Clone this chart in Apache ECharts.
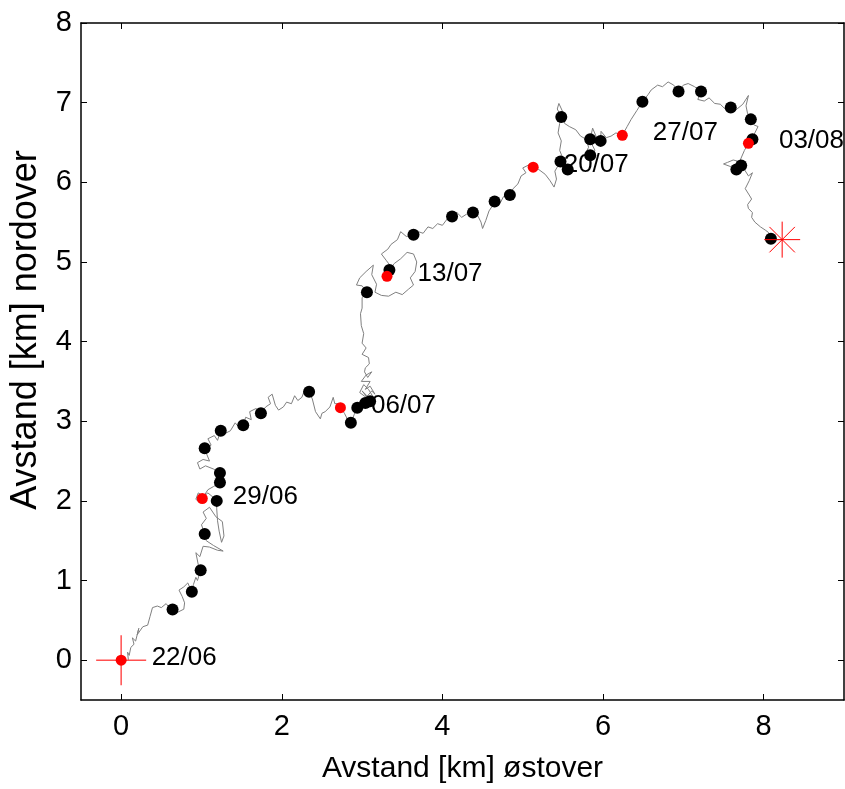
<!DOCTYPE html>
<html>
<head>
<meta charset="utf-8">
<script src="https://cdn.jsdelivr.net/npm/echarts@6/dist/echarts.min.js"></script>
<style>html,body{margin:0;padding:0;background:#fff;}#chart{width:845px;height:789px;}</style>
</head>
<body>
<div id="chart"></div>
<script>
const xTicks = [0, 2, 4, 6, 8];
const yTicks = [0, 1, 2, 3, 4, 5, 6, 7, 8];
const xName = 'Avstand [km] østover';
const yName = 'Avstand [km] nordover';
const dateLabels = ['22/06', '29/06', '06/07', '13/07', '20/07', '27/07', '03/08'];
const weekDots = [[0,0],[1.01,2.03],[2.73,3.17],[3.31,4.82],[5.13,6.19],[6.24,6.59],[7.81,6.49]];
const dayDots = [[0.64,0.635],[0.88,0.86],[0.99,1.13],[1.04,1.585],[1.19,2.0],[1.23,2.23],[1.23,2.35],[1.04,2.66],[1.24,2.88],[1.52,2.95],[1.74,3.10],[2.34,3.37],[2.86,2.98],[2.94,3.17],[3.04,3.23],[3.10,3.25],[3.06,4.62],[3.34,4.90],[3.64,5.34],[4.12,5.57],[4.38,5.62],[4.65,5.76],[4.84,5.84],[5.47,6.26],[5.56,6.16],[5.48,6.82],[5.84,6.34],[5.84,6.54],[5.97,6.52],[6.49,7.01],[6.94,7.14],[7.22,7.14],[7.59,6.94],[7.84,6.79],[7.86,6.54],[7.72,6.21],[7.66,6.16],[8.09,5.29]];
const startPoint = [[0,0]];
const endPoint = [[8.23,5.28]];
const track = [
[0.09,0.0],[0.08,0.10],[0.10,0.06],[0.12,0.16],[0.16,0.20],[0.14,0.28],[0.18,0.24],[0.22,0.40],[0.20,0.32],[0.27,0.42],[0.33,0.44],[0.36,0.55],[0.39,0.66],[0.45,0.68],[0.50,0.66],[0.56,0.71],[0.60,0.66],[0.64,0.635],[0.70,0.60],[0.78,0.64],[0.79,0.72],[0.76,0.80],[0.72,0.88],[0.78,0.92],[0.83,0.97],[0.86,0.90],[0.88,0.86],[0.90,0.95],[0.93,1.04],[0.95,1.00],[0.99,1.13],[0.96,1.20],[0.93,1.35],[0.98,1.30],[1.02,1.43],[1.10,1.42],[1.20,1.38],[1.27,1.37],[1.15,1.44],[1.06,1.50],[1.04,1.585],
[1.00,1.70],[1.06,1.78],[1.02,1.86],[1.10,1.92],[1.18,1.80],[1.26,1.74],[1.28,1.56],[1.25,1.48],[1.22,1.62],[1.20,1.75],[1.19,1.90],[1.19,2.00],[1.14,2.05],[1.08,2.10],[1.03,2.06],[0.96,2.10],[0.93,2.02],[0.98,1.98],[1.01,2.03],
[1.08,2.14],[1.15,2.18],[1.23,2.23],[1.18,2.30],[1.23,2.35],[1.15,2.40],[1.05,2.44],[0.98,2.40],[0.95,2.48],[1.02,2.52],[1.10,2.50],[1.06,2.60],[1.04,2.66],[1.12,2.70],[1.08,2.78],[1.16,2.82],[1.20,2.76],[1.24,2.88],[1.30,2.92],[1.28,2.84],[1.36,2.88],[1.42,2.98],[1.47,2.92],[1.52,2.95],[1.55,3.05],[1.62,3.02],[1.60,3.12],[1.68,3.16],[1.74,3.10],[1.80,3.18],[1.86,3.22],[1.83,3.30],[1.88,3.34],[1.92,3.20],[1.96,3.14],[2.02,3.18],[2.06,3.24],[2.12,3.22],[2.16,3.32],[2.20,3.26],[2.25,3.30],[2.28,3.38],[2.34,3.37],[2.38,3.28],[2.42,3.12],[2.48,3.03],[2.50,3.10],[2.54,3.12],[2.60,3.18],[2.64,3.30],[2.66,3.22],[2.70,3.22],[2.73,3.17],
[2.78,3.10],[2.82,3.02],[2.86,2.98],[2.90,3.08],[2.94,3.17],[2.98,3.26],[3.02,3.20],[3.04,3.23],[3.06,3.32],[3.00,3.38],[3.10,3.25],[3.14,3.30],[3.08,3.40],[3.02,3.46],[2.97,3.36],[3.05,3.30],[3.12,3.38],[3.16,3.34],[3.10,3.44],[3.04,3.40],[3.10,3.50],[2.99,3.50],[3.05,3.58],[3.12,3.62],[3.07,3.55],[3.03,3.62],[3.04,3.67],[3.09,3.72],[3.08,3.80],[3.00,3.84],[3.05,3.92],[3.00,3.98],[3.02,4.10],[2.99,4.20],[2.98,4.35],[3.00,4.42],[3.00,4.55],[3.06,4.62],
[3.00,4.70],[2.93,4.71],[2.97,4.80],[3.05,4.88],[3.14,4.96],[3.12,4.84],[3.18,4.72],[3.16,4.62],[3.24,4.58],[3.33,4.57],[3.42,4.62],[3.50,4.59],[3.58,4.66],[3.64,4.71],[3.60,4.80],[3.66,4.88],[3.68,5.00],[3.64,5.10],[3.56,5.12],[3.48,5.04],[3.40,4.98],[3.34,4.90],[3.28,4.86],[3.31,4.82],[3.36,4.94],[3.30,5.02],[3.24,5.10],[3.32,5.16],[3.36,5.22],[3.44,5.28],[3.48,5.38],[3.55,5.32],[3.64,5.34],
[3.70,5.38],[3.76,5.36],[3.82,5.44],[3.88,5.42],[3.94,5.48],[4.00,5.46],[4.06,5.54],[4.12,5.57],[4.18,5.62],[4.24,5.56],[4.30,5.60],[4.38,5.62],[4.44,5.58],[4.48,5.50],[4.50,5.42],[4.54,5.52],[4.58,5.64],[4.62,5.70],[4.65,5.76],[4.72,5.74],[4.76,5.82],[4.84,5.84],[4.88,5.92],[4.94,5.98],[4.98,6.08],[5.04,6.12],[5.00,6.18],[5.08,6.22],[5.13,6.19],
[5.20,6.16],[5.28,6.10],[5.34,6.02],[5.39,5.94],[5.42,6.04],[5.40,6.14],[5.47,6.26],[5.52,6.20],[5.56,6.16],[5.50,6.30],[5.46,6.40],[5.48,6.52],[5.44,6.62],[5.46,6.74],[5.48,6.82],[5.43,6.92],[5.45,6.99],[5.50,6.88],[5.52,6.74],[5.58,6.70],[5.66,6.66],[5.72,6.58],[5.79,6.54],[5.82,6.44],[5.78,6.36],[5.84,6.34],[5.90,6.40],[5.86,6.48],[5.84,6.54],[5.87,6.68],[5.92,6.56],[5.97,6.52],[5.975,6.64],[6.04,6.56],[6.10,6.58],[6.16,6.62],[6.24,6.59],
[6.30,6.70],[6.35,6.79],[6.42,6.90],[6.49,7.01],[6.56,7.10],[6.60,7.16],[6.68,7.22],[6.74,7.20],[6.81,7.26],[6.88,7.22],[6.94,7.14],[7.00,7.22],[7.06,7.24],[7.14,7.20],[7.22,7.14],[7.18,7.04],[7.26,7.02],[7.32,7.06],[7.39,6.99],[7.46,6.98],[7.52,6.92],[7.59,6.94],[7.64,6.90],[7.68,6.93],[7.74,6.98],[7.81,7.09],[7.78,6.96],[7.80,6.86],[7.84,6.79],[7.88,6.72],[7.93,6.70],[7.89,6.62],[7.86,6.54],[7.81,6.49],
[7.76,6.40],[7.73,6.33],[7.70,6.26],[7.62,6.28],[7.55,6.25],[7.50,6.23],[7.58,6.20],[7.66,6.16],[7.72,6.21],[7.76,6.16],[7.81,6.08],[7.86,6.12],[7.82,6.02],[7.77,5.92],[7.82,5.84],[7.85,5.79],[7.80,5.72],[7.81,5.67],[7.86,5.62],[7.85,5.56],[7.89,5.50],[7.96,5.44],[8.02,5.40],[8.06,5.37],[8.09,5.29],[8.16,5.28],[8.23,5.28]
];

const FONT = 'Liberation Sans, Arial, sans-serif';
const chart = echarts.init(document.getElementById('chart'), null, {renderer: 'canvas'});
const axisLineStyle = {color: '#000', width: 1.5};
const tickStyle = {show: true, inside: true, length: 6, lineStyle: {color: '#000', width: 1}};
function xAx(pos, showLabel) {
  return {
    type: 'value', min: -0.5, max: 9, position: pos,
    axisLine: {show: true, onZero: false, lineStyle: axisLineStyle},
    axisTick: Object.assign({customValues: xTicks}, tickStyle),
    axisLabel: {show: showLabel, customValues: xTicks, fontSize: 29, color: '#000', fontFamily: FONT, margin: 12},
    splitLine: {show: false},
    name: showLabel ? xName : '', nameLocation: 'middle', nameGap: 54,
    nameTextStyle: {fontSize: 30, color: '#000', fontFamily: FONT}
  };
}
function yAx(pos, showLabel) {
  return {
    type: 'value', min: -0.5, max: 8, position: pos,
    axisLine: {show: true, onZero: false, lineStyle: axisLineStyle},
    axisTick: Object.assign({customValues: yTicks}, tickStyle),
    axisLabel: {show: showLabel, customValues: yTicks, fontSize: 29, color: '#000', fontFamily: FONT, margin: 9},
    splitLine: {show: false}
  };
}
chart.setOption({
  animation: false,
  backgroundColor: '#fff',
  grid: {left: 81, right: 1, top: 23, bottom: 83, containLabel: false},
  xAxis: [xAx('bottom', true), xAx('top', false)],
  yAxis: [yAx('left', true), yAx('right', false)],
  graphic: [{
    type: 'text', x: 26, y: 330, rotation: Math.PI / 2,
    style: {text: yName, fontSize: 36, fontFamily: FONT, fill: '#000', textAlign: 'center', textVerticalAlign: 'middle'}
  }],
  series: [
    {type: 'line', data: track, symbol: 'none', showSymbol: false, xAxisIndex: 0, yAxisIndex: 0,
     lineStyle: {color: '#808080', width: 1}, z: 2},
    {type: 'scatter', data: dayDots, symbol: 'circle', symbolSize: 12, itemStyle: {color: '#000', opacity: 1}, z: 3},
    {type: 'scatter', data: weekDots, symbol: 'circle', symbolSize: 11, itemStyle: {color: '#ff0000', opacity: 1}, z: 4,
     label: {show: true, position: 'right', distance: 25, offset: [0, -2],
             formatter: p => dateLabels[p.dataIndex], fontSize: 26, color: '#000', opacity: 1, fontFamily: FONT}},
    {type: 'scatter', data: startPoint, symbol: 'path://M0,-1L0,1M-1,0L1,0', symbolSize: 50,
     itemStyle: {color: 'rgba(0,0,0,0)', borderColor: '#ff5050', borderWidth: 1.5, opacity: 1}, z: 3},
    {type: 'scatter', data: endPoint, symbol: 'path://M0,-1L0,1M-1,0L1,0M-0.7071,-0.7071L0.7071,0.7071M-0.7071,0.7071L0.7071,-0.7071', symbolSize: 36,
     itemStyle: {color: 'rgba(0,0,0,0)', borderColor: '#ff0000', borderWidth: 1, opacity: 1}, z: 5}
  ]
});
</script>
</body>
</html>
